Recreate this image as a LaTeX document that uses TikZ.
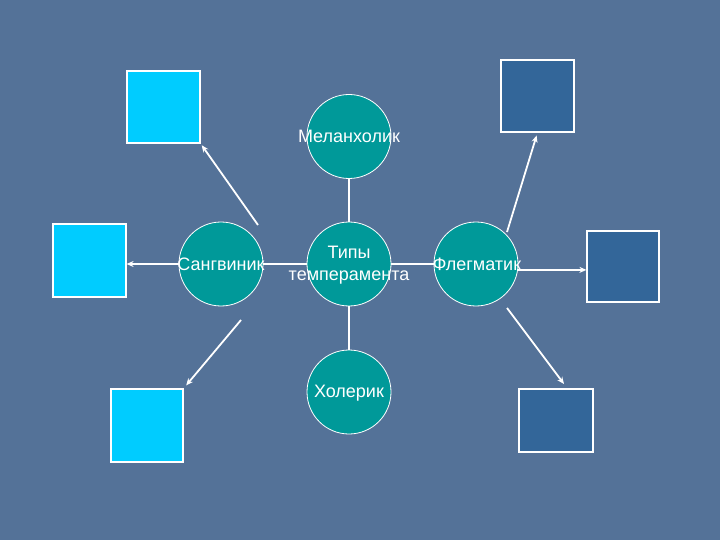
\documentclass[tikz,border=0pt]{standalone}
\usepackage{fontspec}
\setmainfont{Liberation Sans}
\usetikzlibrary{arrows.meta}
\definecolor{bg}{RGB}{84,114,152}
\definecolor{tealc}{RGB}{0,153,153}
\definecolor{cyanbox}{RGB}{0,204,255}
\definecolor{darkbox}{RGB}{51,102,153}
\begin{document}
\begin{tikzpicture}[x=1pt,y=-1pt,
 circ/.style={circle,draw=white,line width=0.8pt,fill=tealc,minimum size=84pt,inner sep=0pt},
 lbl/.style={text=white,font=\fontsize{18}{22}\selectfont,align=center,inner sep=0pt},
 lbox/.style={draw=white,line width=1.2pt,fill=cyanbox,inner sep=0pt},
 dbox/.style={draw=white,line width=1.2pt,fill=darkbox,inner sep=0pt},
 conn/.style={draw=white,line width=1.8pt},
 arr/.style={conn,-{Stealth[length=7pt,width=6pt]}}]
\fill[bg] (0,0) rectangle (720,540);
\useasboundingbox (0,0) rectangle (720,540);

% boxes
\node[lbox,minimum width=73pt,minimum height=72pt] (sq1) at (163.5,107) {};
\node[lbox,minimum width=73pt,minimum height=73pt] (sq2) at (89.5,260.5) {};
\node[lbox,minimum width=72pt,minimum height=73pt] (sq3) at (147,425.5) {};
\node[dbox,minimum width=73pt,minimum height=72pt] (sq4) at (537.5,96) {};
\node[dbox,minimum width=72pt,minimum height=71pt] (sq5) at (623,266.5) {};
\node[dbox,minimum width=74pt,minimum height=63pt] (sq6) at (556,420.5) {};

% circles
\node[circ] (mel) at (349,136.5) {};
\node[circ] (cen) at (349,264) {};
\node[circ] (san) at (221,264) {};
\node[circ] (fle) at (476,264) {};
\node[circ] (hol) at (349,392) {};

% connectors
\draw[conn] (mel.south) -- (cen.north);
\draw[conn] (cen.south) -- (hol.north);
\draw[conn] (cen.west) -- (san.east);
\draw[conn] (cen.east) -- (fle.west);
\draw[arr] (san.west) -- (san.west -| sq2.east);
\draw[arr] (fle.-8) -- (fle.-8 -| sq5.west);

\coordinate (a1) at (258,225);
\coordinate (a2) at (241,320);
\coordinate (a3) at (507,232);
\coordinate (a4) at (507,308);
\coordinate (t4) at (564,384);
\draw[arr,shorten >=2pt] (a1) -- (sq1.south east);
\draw[arr,shorten >=4pt] (a2) -- (sq3.north east);
\draw[arr,shorten >=3pt] (a3) -- (sq4.south);
\draw[arr] (a4) -- (t4);

% labels
\node[lbl] (tmel) at (mel) {Меланхолик};
\node[lbl] (tcen) at (349,265) {Типы\\темперамента};
\node[lbl] (tsan) at (san) {Сангвиник};
\node[lbl] (tfle) at (477,264) {Флегматик};
\node[lbl] (thol) at (349,393) {Холерик};
\end{tikzpicture}
\end{document}
